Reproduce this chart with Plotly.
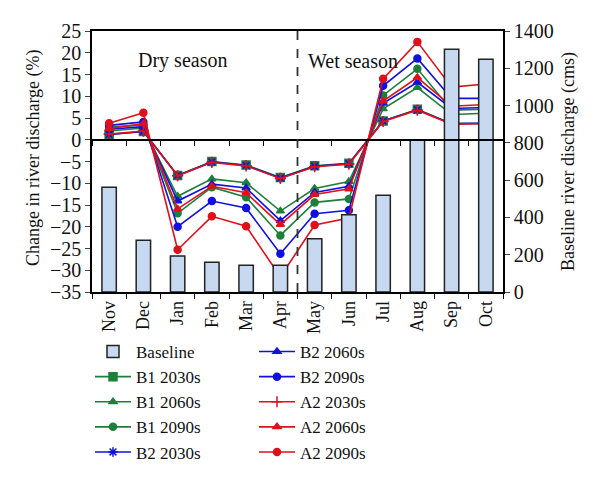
import plotly.graph_objects as go

months = ["Nov", "Dec", "Jan", "Feb", "Mar", "Apr", "May", "Jun", "Jul", "Aug", "Sep", "Oct"]
baseline = [562, 278, 193, 159, 143, 144, 286, 414, 519, 815, 1302, 1249]

b1_2030 = [1.2, 1.9, -8.2, -5.0, -5.8, -8.7, -6.0, -5.4, 4.3, 7.0, 3.7, 3.8]
b1_2060 = [2.0, 2.7, -13.0, -9.0, -9.9, -16.4, -11.2, -9.6, 7.1, 12.0, 5.8, 6.1]
b1_2090 = [2.9, 3.4, -16.9, -10.9, -13.2, -22.0, -14.4, -13.6, 10.2, 16.3, 6.8, 7.0]
b2_2030 = [1.2, 1.9, -8.2, -5.1, -5.9, -8.8, -6.1, -5.5, 4.3, 6.9, 3.7, 3.8]
b2_2060 = [2.4, 3.0, -14.1, -10.2, -11.1, -18.6, -12.1, -10.7, 8.4, 13.2, 7.2, 7.4]
b2_2090 = [3.3, 4.1, -20.0, -14.1, -15.7, -26.2, -17.0, -16.2, 12.4, 18.7, 9.5, 9.5]
a2_2030 = [1.3, 2.0, -8.3, -5.2, -6.0, -8.9, -6.2, -5.6, 4.2, 6.8, 3.6, 3.7]
a2_2060 = [2.6, 3.7, -15.9, -10.7, -12.2, -19.5, -12.6, -11.3, 8.9, 14.3, 7.7, 8.1]
a2_2090 = [3.8, 6.2, -25.3, -17.6, -19.9, -31.5, -19.6, -18.0, 14.0, 22.5, 12.1, 12.8]

series = [
    ("B1 2030s", b1_2030, "#1E7F3A", "square"),
    ("B1 2060s", b1_2060, "#1E7F3A", "triangle-up"),
    ("B1 2090s", b1_2090, "#1E7F3A", "circle"),
    ("B2 2030s", b2_2030, "#1010E0", "asterisk-open"),
    ("B2 2060s", b2_2060, "#1010E0", "triangle-up"),
    ("B2 2090s", b2_2090, "#1010E0", "circle"),
    ("A2 2030s", a2_2030, "#E0101A", "cross-thin-open"),
    ("A2 2060s", a2_2060, "#E0101A", "triangle-up"),
    ("A2 2090s", a2_2090, "#E0101A", "circle"),
]

FONT = "'Liberation Serif', 'DejaVu Serif', serif"
W, H = 592, 476          # page body has an 8px margin
L, T, PW, PH = 84, 23, 411, 261


def px_x(px):
    return (px - 8 - L) / PW


def px_y(py):
    return 1 - (py - 8 - T) / PH


fig = go.Figure()

fig.add_trace(go.Bar(
    x=months, y=baseline, name="Baseline", yaxis="y2", width=0.42,
    marker=dict(color="#C6D9F0", line=dict(color="#222222", width=1.5)),
    legend="legend",
))

for i, (name, vals, col, sym) in enumerate(series):
    fig.add_trace(go.Scatter(
        x=months, y=vals, name=name, mode="lines+markers",
        line=dict(color=col, width=1.6),
        marker=dict(symbol=sym, size=7 if "2030" not in name else 8, color=col,
                    line=dict(color=col, width=1.5)),
        legend="legend" if i < 4 else "legend2",
    ))

# invisible trace to carry the zero-line category axis
fig.add_trace(go.Scatter(x=months, y=[None] * len(months), xaxis="x2", yaxis="y",
                         showlegend=False, hoverinfo="skip"))

divider = months.index("Apr") + 0.5
fig.add_shape(type="line", xref="x", yref="paper", x0=divider, x1=divider, y0=0, y1=1,
              line=dict(color="#333333", width=1.8, dash="dash"))

ymin, ymax = -35, 25
legend_common = dict(yref="container", xref="container", y=1 - 326 / H, yanchor="top",
                     xanchor="left", orientation="v", font=dict(family=FONT, size=17),
                     tracegroupgap=0, itemwidth=36, bgcolor="rgba(0,0,0,0)")
fig.update_layout(
    width=W, height=H,
    margin=dict(l=L, r=W - L - PW, t=T, b=H - T - PH, autoexpand=False),
    paper_bgcolor="white", plot_bgcolor="white",
    font=dict(family=FONT, size=18, color="#111111"),
    barmode="overlay",
    xaxis=dict(type="category", range=[-0.5, 11.5], showline=True, linecolor="black",
               linewidth=1.5, mirror=True, ticks="outside", tickson="boundaries",
               ticklen=5, tickcolor="black", tickangle=-90, showgrid=False,
               automargin=False, tickfont=dict(family=FONT, size=18)),
    xaxis2=dict(type="category", range=[-0.5, 11.5], overlaying="x", anchor="free",
                position=(0 - ymin) / (ymax - ymin), showline=True, linecolor="black",
                linewidth=1.5, ticks="outside", tickson="boundaries", ticklen=5,
                tickcolor="black", showticklabels=False, showgrid=False, automargin=False),
    yaxis=dict(range=[ymin, ymax], dtick=5, showline=True, linecolor="black", linewidth=1.5,
               ticks="outside", ticklen=5, showgrid=False, zeroline=False, automargin=False,
               tickfont=dict(size=20)),
    yaxis2=dict(range=[0, 1400], dtick=200, overlaying="y", side="right", showline=True,
                linecolor="black", linewidth=1.5, ticks="outside", ticklen=5, showgrid=False,
                zeroline=False, automargin=False, tickfont=dict(size=20)),
    legend=dict(x=(90 - 8) / W, **legend_common),
    legend2=dict(x=(254 - 8) / W, **legend_common),
    annotations=[
        dict(text="Dry season", xref="paper", yref="paper", x=px_x(182), y=px_y(61),
             xanchor="center", yanchor="middle", showarrow=False, font=dict(size=20)),
        dict(text="Wet season", xref="paper", yref="paper", x=px_x(353), y=px_y(61),
             xanchor="center", yanchor="middle", showarrow=False, font=dict(size=20)),
        dict(text="Change in river discharge (%)", xref="paper", yref="paper",
             x=px_x(33), y=px_y(158), textangle=-90, showarrow=False,
             xanchor="center", yanchor="middle", font=dict(size=18)),
        dict(text="Baseline river discharge (cms)", xref="paper", yref="paper",
             x=px_x(568), y=px_y(162), textangle=-90, showarrow=False,
             xanchor="center", yanchor="middle", font=dict(size=18)),
    ],
)

fig.write_html("out.html")
